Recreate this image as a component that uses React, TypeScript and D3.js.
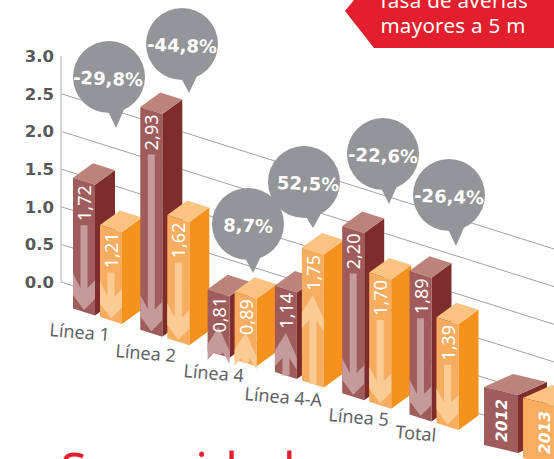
import React from "react";
import * as d3 from "d3";

const categories = ["Línea 1", "Línea 2", "Línea 4", "Línea 4-A", "Línea 5", "Total"];
const values2012 = [1.72, 2.93, 0.81, 1.14, 2.2, 1.89];
const values2013 = [1.21, 1.62, 0.89, 1.75, 1.7, 1.39];
const variation = ["-29,8%", "-44,8%", "8,7%", "52,5%", "-22,6%", "-26,4%"];
const yTicks = [0, 0.5, 1, 1.5, 2, 2.5, 3];
const years = ["2012", "2013"];

const W = 554, H = 459;
const SLOPE = 0.315;
const FACE = 22;
const DX = 20, DY = -14.5;
const FONT = "'Noto Sans', sans-serif";
const BOLD = "'DejaVu Sans', sans-serif";

const y = d3.scaleLinear().domain([0, 3]).range([282, 56]);
const barH = d3.scaleLinear().domain([0, 1]).range([0, 76]);
const x = d3.scaleBand().domain(categories).range([73, 73 + 67.3 * 6]).paddingInner(0).paddingOuter(0).align(0);
const base = (px: number) => 308.5 + SLOPE * (px - 73);
const line = d3.line<[number, number]>();
const poly = (p: [number, number][]) => line(p) + "Z";

const dark = { front: "#A05C5B", top: "#BC837B", side: "#7F2D2C", arrow: "#C49B9A" };
const orange = { front: "#F6AD60", top: "#FBC382", side: "#F5921E", arrow: "#FBCB96" };

// layout of annotation pieces
const labelPos: [number, number][] = [[49, 336], [115, 357], [183, 377], [244, 400], [328, 421], [395, 438]];
const bubblePos: { c: [number, number]; tip: [number, number]; tx: number }[] = [
  { c: [109, 77], tip: [116, 128], tx: 108 },
  { c: [182, 44], tip: [189, 93], tx: 182 },
  { c: [248, 224], tip: [253, 273], tx: 248 },
  { c: [304, 182], tip: [313, 228], tx: 308 },
  { c: [383, 154], tip: [389, 204], tx: 383 },
  { c: [449, 195], tip: [456, 246], tx: 449 },
];

function Bar({ left, value, color, up, label }: { left: number; value: number; color: typeof dark; up: boolean; label: string }) {
  const h = barH(value);
  const r = left + FACE;
  const c = left + FACE / 2;
  const bL = base(left), bR = base(r), bC = base(c);
  const tL = bL - h, tR = bR - h, tC = bC - h;
  const gap = Math.min(44, h * 0.55);
  const s = 3.5;
  let arrow: [number, number][];
  if (up) {
    const T = tC + gap;
    arrow = [[c, T], [r, T + 21 + SLOPE * 11], [r, T + 37], [c + s, T + 25], [c + s, bC], [c - s, bC], [c - s, T + 25], [left, T + 33], [left, T + 21 - SLOPE * 11]];
  } else {
    const tip = bC - 2;
    const top = tC + gap;
    arrow = [[c - s, top], [c + s, top], [c + s, tip - 22], [r, tip - 33 + SLOPE * 11], [r, tip - 11], [c, tip], [left, tip - 15], [left, tip - 33 - SLOPE * 11], [c - s, tip - 22]];
  }
  return (
    <g>
      <path d={poly([[r, tR], [r + DX, tR + DY], [r + DX, bR + DY], [r, bR]])} fill={color.side} />
      <path d={poly([[left, tL], [left + DX, tL + DY], [r + DX, tR + DY], [r, tR]])} fill={color.top} />
      <path d={poly([[left, tL], [r, tR], [r, bR], [left, bL]])} fill={color.front} />
      <path d={poly(arrow)} fill={color.arrow} />
      <text
        transform={`translate(${c + 7},${tC + 4}) rotate(-90)`}
        textAnchor="end"
        fontFamily={FONT}
        fontSize={18}
        fill="#fff"
      >
        {label}
      </text>
    </g>
  );
}

function LegendBox({ left, top, w, h, color, label, tx, ty }: { left: number; top: number; w: number; h: number; color: typeof dark; label: string; tx: number; ty: number }) {
  const s = 0.235;
  const r = left + w;
  const dx = 29, dy = -13;
  return (
    <g>
      <path d={poly([[r, top + w * s], [r + dx, top + w * s + dy], [r + dx, top + w * s + dy + h], [r, top + w * s + h]])} fill={color.side} />
      <path d={poly([[left, top], [left + dx, top + dy], [r + dx, top + w * s + dy], [r, top + w * s]])} fill={color.top} />
      <path d={poly([[left, top], [r, top + w * s], [r, top + w * s + h], [left, top + h]])} fill={color.front} />
      <text transform={`translate(${tx},${ty}) rotate(-90) skewX(-10)`} fontFamily={BOLD} fontWeight="bold" fontSize={15.5} fill="#fff">
        {label}
      </text>
    </g>
  );
}

export default function App() {
  return (
    <svg width={W} height={H} viewBox={`0 0 ${W} ${H}`} style={{ position: "absolute", left: 0, top: 0, display: "block", background: "#fff" }}>
      {/* grid */}
      {yTicks.filter((t) => t < 3).map((t) => {
        const x0 = 61, x1 = t < 1 ? 510 : 554;
        return <line key={t} x1={x0} y1={y(t)} x2={x1} y2={y(t) + SLOPE * (x1 - x0)} stroke="#8a8a8c" strokeWidth={0.8} />;
      })}
      <line x1={61} x2={61} y1={56} y2={282} stroke="#c9cacc" strokeWidth={1.6} />
      {yTicks.map((t) => (
        <text key={t} x={54} y={y(t) + 6} textAnchor="end" fontFamily={BOLD} fontWeight="bold" fontSize={16.5} fill="#58595b">
          {t.toFixed(1)}
        </text>
      ))}

      {/* bars */}
      {categories.map((cat, i) => {
        const left = x(cat)!;
        const up = !variation[i].startsWith("-");
        return (
          <g key={cat}>
            <Bar left={left} value={values2012[i]} color={dark} up={up} label={values2012[i].toFixed(2).replace(".", ",")} />
            <Bar left={left + 27} value={values2013[i]} color={orange} up={up} label={values2013[i].toFixed(2).replace(".", ",")} />
          </g>
        );
      })}

      {/* category labels */}
      {categories.map((cat, i) => (
        <text key={cat} transform={`translate(${labelPos[i][0]},${labelPos[i][1]}) rotate(5)`} fontFamily={FONT} fontSize={18} fill="#626366">
          {cat}
        </text>
      ))}

      {/* bubbles */}
      {variation.map((v, i) => {
        const b = bubblePos[i];
        const [cx, cy] = b.c;
        const R = 36;
        const [tx, ty] = b.tip;
        return (
          <g key={v}>
            <path d={poly([[tx - 10, cy + R - 6], [tx, ty], [tx + 10, cy + R - 8]])} fill="#939598" />
            <circle cx={cx} cy={cy} r={R} fill="#939598" />
            <text transform={`translate(${b.tx},${cy + 3}) rotate(2)`} textAnchor="middle" dominantBaseline="middle" fontFamily={BOLD} fontWeight="bold" fontSize={18} fill="#fff">
              {v}
            </text>
          </g>
        );
      })}

      {/* legend */}
      <LegendBox left={484} top={387} w={34} h={58} color={dark} label={years[0]} tx={507} ty={443} />
      <LegendBox left={523} top={398} w={34} h={60} color={orange} label={years[1]} tx={550} ty={455} />

      {/* red tag */}
      <path d={poly([[345, 11], [354, 0], [554, 0], [554, 48], [374, 48]])} fill="#E31E2D" />
      <text x={453} y={8} textAnchor="middle" fontFamily={FONT} fontSize={20.5} letterSpacing={0.3} fill="#fff">Tasa de averías</text>
      <text x={453} y={33} textAnchor="middle" fontFamily={FONT} fontSize={20.5} letterSpacing={0.3} fill="#fff">mayores a 5 m</text>

      {/* headline cut by the page edge */}
      <text x={60} y={488} fontFamily={FONT} fontSize={49} fill="#E31E2D">Seguridad</text>
    </svg>
  );
}
